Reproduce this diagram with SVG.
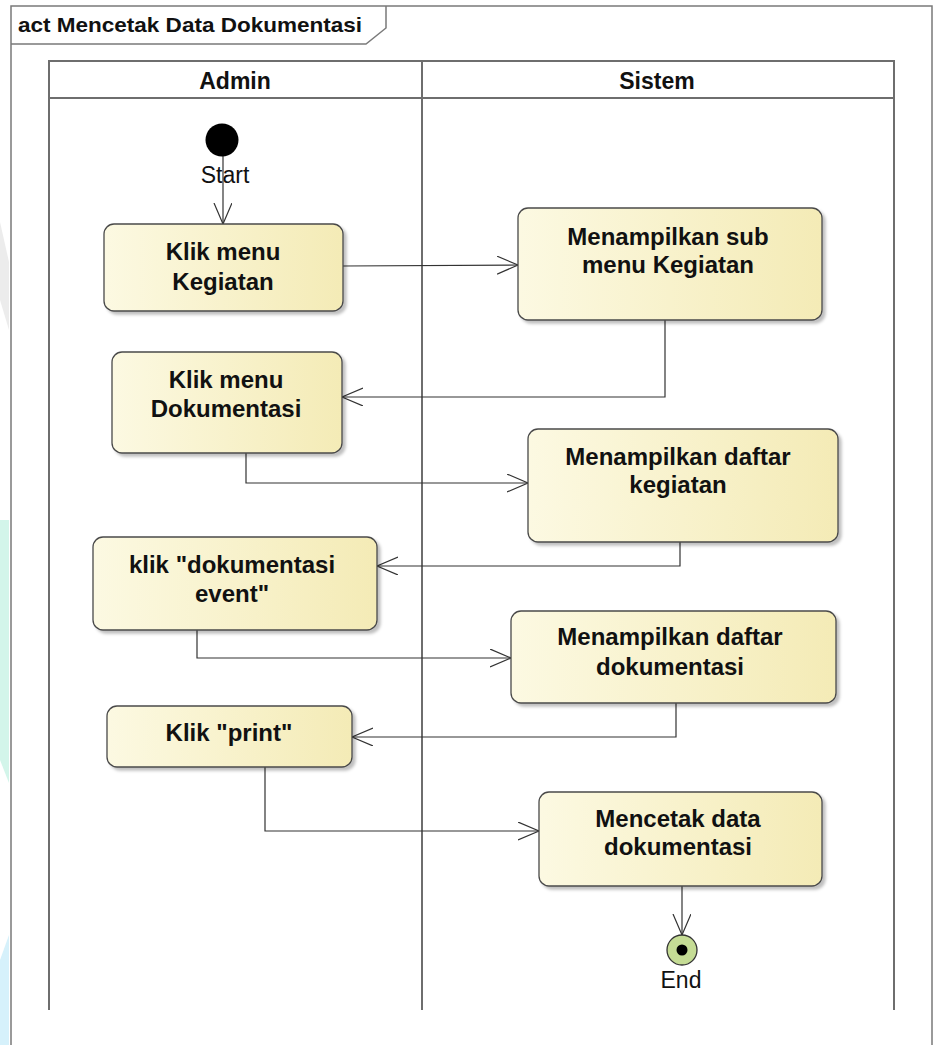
<svg xmlns="http://www.w3.org/2000/svg" width="933" height="1045" viewBox="0 0 933 1045">
<style>
.lane{fill:none;stroke:#6e6e6e;stroke-width:2}
.frame{fill:none;stroke:#7a7a7a;stroke-width:1.5}
.act{fill:url(#g);stroke:#4a4a4a;stroke-width:1.3;filter:url(#sh)}
.t{font-family:"Liberation Sans",Arial,sans-serif;font-weight:bold;font-size:24px;fill:#111;text-anchor:middle}
.h{font-family:"Liberation Sans",Arial,sans-serif;font-weight:bold;font-size:23px;fill:#111;text-anchor:middle}
.n{font-family:"Liberation Sans",Arial,sans-serif;font-size:23px;fill:#111;text-anchor:middle}
.c{fill:none;stroke:#333;stroke-width:1.2;marker-end:url(#arr)}
</style>
<defs>
<linearGradient id="g" x1="0" y1="0" x2="1" y2="0">
<stop offset="0" stop-color="#fcf9e2"/>
<stop offset="1" stop-color="#f4ebb6"/>
</linearGradient>
<filter id="sh" x="-10%" y="-10%" width="130%" height="130%">
<feDropShadow dx="3" dy="3" stdDeviation="1.5" flood-color="#000" flood-opacity="0.25"/>
</filter>
<marker id="arr" markerUnits="userSpaceOnUse" markerWidth="24" markerHeight="20" refX="21" refY="9" orient="auto" viewBox="0 0 24 20">
<path d="M0,0 L21,9 L0,18" fill="none" stroke="#333" stroke-width="1.2"/>
</marker>
</defs>
<rect width="933" height="1045" fill="#fff"/>
<g id="watermark">
<polygon points="0,222 9,262 9,330 0,300" fill="#ececec"/>
<polygon points="0,520 9,520 9,783 0,760" fill="#d3f5ea"/>
<polygon points="0,960 9,935 9,1045 0,1045" fill="#d6f1fb"/>
</g>
<g id="frame">
<path class="frame" d="M11,1045 L11,6 L932,6 L932,1045"/>
<path class="frame" d="M11,44 L366,44 L386,28 L386,6"/>
<text x="18" y="32" font-family="'Liberation Sans',Arial,sans-serif" font-weight="bold" font-size="21" fill="#111" textLength="344" lengthAdjust="spacingAndGlyphs">act Mencetak Data Dokumentasi</text>
</g>
<g id="lanes">
<path class="lane" d="M49,1010 L49,61 L894,61 L894,1010"/>
<line class="lane" x1="49" y1="98" x2="894" y2="98"/>
<line class="lane" x1="422" y1="61" x2="422" y2="1010"/>
<text class="h" x="235" y="89">Admin</text>
<text class="h" x="657" y="89">Sistem</text>
</g>
<g id="connectors">
<line class="c" x1="223" y1="156" x2="223" y2="224"/>
<line class="c" x1="343" y1="266" x2="518" y2="265"/>
<polyline class="c" points="665,320 665,397 342,397"/>
<polyline class="c" points="246,453 246,483 528,483"/>
<polyline class="c" points="680,542 680,566 377,566"/>
<polyline class="c" points="197,630 197,658 511,658"/>
<polyline class="c" points="676,703 676,737 352,737"/>
<polyline class="c" points="265,767 265,831 539,831"/>
<line class="c" x1="682" y1="886" x2="682" y2="935"/>
</g>
<g id="start">
<circle cx="222" cy="140" r="16.5" fill="#000"/>
<text class="n" x="225" y="183">Start</text>
</g>
<g id="a1">
<rect class="act" x="104" y="224" width="239" height="87" rx="10"/>
<text class="t" x="223" y="260">Klik menu</text>
<text class="t" x="223" y="290">Kegiatan</text>
</g>
<g id="a2">
<rect class="act" x="518" y="208" width="304" height="112" rx="10"/>
<text class="t" x="668" y="245">Menampilkan sub</text>
<text class="t" x="668" y="273">menu Kegiatan</text>
</g>
<g id="a3">
<rect class="act" x="112" y="352" width="230" height="101" rx="10"/>
<text class="t" x="226" y="388">Klik menu</text>
<text class="t" x="226" y="417">Dokumentasi</text>
</g>
<g id="a4">
<rect class="act" x="528" y="429" width="310" height="113" rx="10"/>
<text class="t" x="678" y="465">Menampilkan daftar</text>
<text class="t" x="678" y="493">kegiatan</text>
</g>
<g id="a5">
<rect class="act" x="93" y="537" width="284" height="93" rx="10"/>
<text class="t" x="232" y="573">klik "dokumentasi</text>
<text class="t" x="232" y="602">event"</text>
</g>
<g id="a6">
<rect class="act" x="511" y="611" width="325" height="92" rx="10"/>
<text class="t" x="670" y="645">Menampilkan daftar</text>
<text class="t" x="670" y="675">dokumentasi</text>
</g>
<g id="a7">
<rect class="act" x="107" y="706" width="245" height="61" rx="10"/>
<text class="t" x="229" y="741">Klik "print"</text>
</g>
<g id="a8">
<rect class="act" x="539" y="792" width="283" height="94" rx="10"/>
<text class="t" x="678" y="827">Mencetak data</text>
<text class="t" x="678" y="855">dokumentasi</text>
</g>
<g id="end">
<circle cx="682" cy="950" r="15" fill="#c5dc95" stroke="#333" stroke-width="1.3"/>
<circle cx="682" cy="950" r="5.5" fill="#000"/>
<text class="n" x="681" y="988">End</text>
</g>
</svg>
